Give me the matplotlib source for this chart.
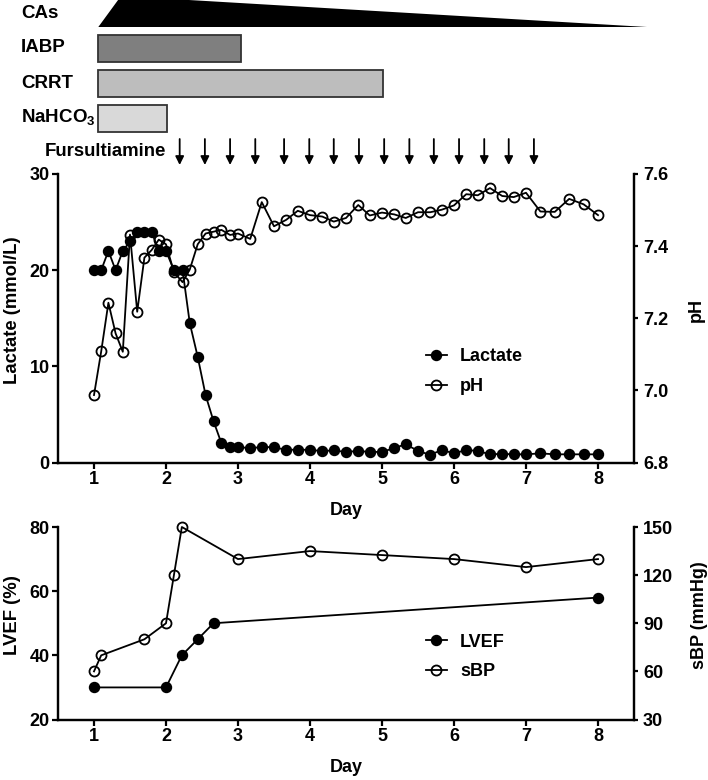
import matplotlib
matplotlib.use('Agg')
import matplotlib.pyplot as plt
from matplotlib.lines import Line2D

plt.rcParams['font.family'] = ['Liberation Sans', 'DejaVu Sans']
plt.rcParams['font.weight'] = 'bold'
plt.rcParams['axes.labelweight'] = 'bold'
plt.rcParams['mathtext.fontset'] = 'custom'
plt.rcParams['mathtext.bf'] = 'Liberation Sans:bold'
plt.rcParams['mathtext.rm'] = 'Liberation Sans:bold'

# top panel, lactate and pH
lab_days = [1.0, 1.1, 1.2, 1.3, 1.4, 1.5, 1.6, 1.7, 1.8, 1.9, 2.0, 2.11, 2.23, 2.33, 2.44, 2.55, 2.66, 2.77, 2.89, 3.0,
            3.17, 3.33, 3.5, 3.67, 3.83, 4.0, 4.17, 4.33, 4.5, 4.67, 4.83, 5.0, 5.17, 5.33, 5.5, 5.67, 5.83, 6.0,
            6.17, 6.33, 6.5, 6.67, 6.83, 7.0, 7.2, 7.4, 7.6, 7.8, 8.0]
lactate = [20, 20, 22, 20, 22, 23, 24, 24, 24, 22, 22, 20, 20, 14.5, 11, 7, 4.3, 2, 1.6, 1.6,
           1.5, 1.6, 1.6, 1.3, 1.35, 1.3, 1.2, 1.25, 1.1, 1.2, 1.1, 1.1, 1.5, 1.9, 1.2, 0.8, 1.3, 0.95,
           1.3, 1.2, 0.85, 0.9, 0.85, 0.85, 0.95, 0.85, 0.85, 0.85, 0.85]
ph = [6.987, 7.108, 7.243, 7.158, 7.107, 7.432, 7.218, 7.368, 7.389, 7.418, 7.405, 7.328, 7.30, 7.335, 7.405, 7.435, 7.44, 7.445, 7.431, 7.435,
      7.42, 7.522, 7.455, 7.473, 7.498, 7.486, 7.482, 7.468, 7.478, 7.514, 7.485, 7.493, 7.488, 7.478, 7.494, 7.494, 7.501, 7.513,
      7.544, 7.541, 7.561, 7.539, 7.536, 7.548, 7.496, 7.495, 7.531, 7.516, 7.486]

# bottom panel
lvef_days = [1, 2, 2.22, 2.44, 2.66, 8]
lvef = [30, 30, 40, 45, 50, 58]
sbp_days = [1, 1.1, 1.7, 2, 2.11, 2.22, 3, 4, 5, 6, 7, 8]
sbp = [60, 70, 80, 90, 120, 150, 130, 135, 132.5, 130, 125, 130]

# treatment strip
treatments = ['IABP', 'CRRT', 'NaHCO$_{3}$']
treat_start = [1.06, 1.06, 1.06]
treat_end = [3.04, 5.01, 2.01]
treat_colors = ['#7f7f7f', '#bdbdbd', '#d9d9d9']
cas_days = [1.06, 1.375, 8.68]
fursultiamine_days = [2.19, 2.54, 2.89, 3.24, 3.64, 3.99, 4.33, 4.68, 5.03, 5.38, 5.72, 6.07, 6.42, 6.76, 7.11]

W, H = 708, 780


def make_axes(left, top, right, bottom):
    return fig.add_axes([left / W, 1 - bottom / H, (right - left) / W, (bottom - top) / H])


def style_axes(ax, twin):
    ax.set_xlim(0.5, 8.5)
    ax.set_xticks(range(1, 9))
    ax.spines['top'].set_visible(False)
    for s in ax.spines.values():
        s.set_linewidth(1.6)
    ax.tick_params(width=1.6, length=4, labelsize=13, pad=2)
    twin.spines['top'].set_visible(False)
    for s in twin.spines.values():
        s.set_linewidth(1.6)
    twin.tick_params(width=1.6, length=3, labelsize=13, pad=3.5)
    ax.set_xlabel('Day', fontsize=13, labelpad=10)


def draw_legend(ax, names, anchor, spacing):
    handles = [Line2D([], [], color='k', lw=1.3, marker='o', ms=7.2, mfc='k', mec='k'),
               Line2D([], [], color='k', lw=1.3, marker='o', ms=7.2, mfc='none', mec='k', mew=1.3)]
    ax.legend(handles, names, loc='center left', bbox_to_anchor=anchor, frameon=False,
              fontsize=13, handlelength=1.2, handletextpad=0.7, labelspacing=spacing)


fig = plt.figure(figsize=(W / 100, H / 100), dpi=100)

# strip axes cover the whole figure, x is in days, y in figure pixels
strip = fig.add_axes([0, 0, 1, 1])
strip.set_xlim(1 - 94 / 72, 1 + (W - 94) / 72)
strip.set_ylim(H, 0)
strip.axis('off')

strip.fill([cas_days[0], cas_days[1], cas_days[2]], [27, -4, 27], color='k', lw=0)
strip.text(21 / 72 + 1 - 94 / 72, 14, 'CAs', fontsize=13.5, va='center')
lanes = [48, 83, 118]
for i in range(3):
    strip.barh(lanes[i], treat_end[i] - treat_start[i], height=27, left=treat_start[i],
               color=treat_colors[i], edgecolor='#333333', linewidth=1.3)
    strip.text(21 / 72 + 1 - 94 / 72, lanes[i], treatments[i], fontsize=13.5, va='center')
for d in fursultiamine_days:
    strip.annotate('', xy=(d, 165), xytext=(d, 139),
                   arrowprops=dict(arrowstyle='-|>,head_width=0.25,head_length=0.5', color='k', lw=1.3,
                                   shrinkA=0, shrinkB=0))
strip.text(2.0, 152, 'Fursultiamine', fontsize=13.4, va='center', ha='right')

# lactate / pH
ax1 = make_axes(58, 174, 634, 462.5)
ax2 = ax1.twinx()
ax1.plot(lab_days, lactate, color='k', lw=1.3, marker='o', ms=7.2, mfc='k', mec='k', clip_on=False)
ax2.plot(lab_days, ph, color='k', lw=1.3, marker='o', ms=7.2, mfc='none', mec='k', mew=1.3, clip_on=False)
ax1.set_ylim(0, 30)
ax1.set_yticks([0, 10, 20, 30])
ax2.set_ylim(6.8, 7.6)
ax2.set_yticks([6.8, 7.0, 7.2, 7.4, 7.6])
ax2.set_yticklabels(['6.8', '7.0', '7.2', '7.4', '7.6'])
ax1.set_ylabel('Lactate (mmol/L)', fontsize=13.3, labelpad=6, y=0.529)
ax2.set_ylabel('pH', fontsize=13, labelpad=14, y=0.529)
style_axes(ax1, ax2)
draw_legend(ax2, ['Lactate', 'pH'], (0.61, 0.315), 0.75)

# LVEF / sBP
ax3 = make_axes(58, 527, 634, 719.5)
ax4 = ax3.twinx()
ax3.plot(lvef_days, lvef, color='k', lw=1.3, marker='o', ms=7.2, mfc='k', mec='k', clip_on=False)
ax4.plot(sbp_days, sbp, color='k', lw=1.3, marker='o', ms=7.2, mfc='none', mec='k', mew=1.3, clip_on=False)
ax3.set_ylim(20, 80)
ax3.set_yticks([20, 40, 60, 80])
ax4.set_ylim(30, 150)
ax4.set_yticks([30, 60, 90, 120, 150])
ax3.set_ylabel('LVEF (%)', fontsize=13.3, labelpad=6, y=0.543)
ax4.set_ylabel('sBP (mmHg)', fontsize=13, labelpad=13, y=0.543)
style_axes(ax3, ax4)
draw_legend(ax4, ['LVEF', 'sBP'], (0.61, 0.325), 0.7)

fig.savefig('out.png', dpi=100)
